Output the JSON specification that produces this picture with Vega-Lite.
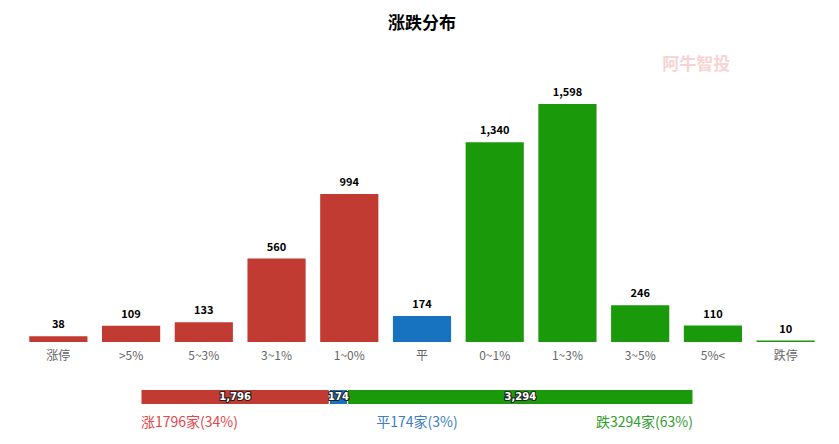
{
  "$schema": "https://vega.github.io/schema/vega-lite/v6.json",
  "background": "white",
  "padding": {"left": 22, "right": 17, "top": 15, "bottom": 0},
  "config": {"view": {"stroke": null}, "font": "Noto Sans CJK SC"},
  "title": {"text": "涨跌分布", "fontSize": 17, "fontWeight": "bold", "font": "Noto Sans CJK SC", "color": "#000000", "anchor": "middle", "offset": 17},
  "datasets": {
    "main": [
      {"cat": "涨停", "value": 38, "grp": "up"},
      {"cat": ">5%", "value": 109, "grp": "up"},
      {"cat": "5~3%", "value": 133, "grp": "up"},
      {"cat": "3~1%", "value": 560, "grp": "up"},
      {"cat": "1~0%", "value": 994, "grp": "up"},
      {"cat": "平", "value": 174, "grp": "flat"},
      {"cat": "0~1%", "value": 1340, "grp": "down"},
      {"cat": "1~3%", "value": 1598, "grp": "down"},
      {"cat": "3~5%", "value": 246, "grp": "down"},
      {"cat": "5%<", "value": 110, "grp": "down"},
      {"cat": "跌停", "value": 10, "grp": "down"}
    ],
    "total": [
      {"grp": "up", "i": 1, "value": 1796, "label": "涨1796家(34%)"},
      {"grp": "flat", "i": 2, "value": 174, "label": "平174家(3%)"},
      {"grp": "down", "i": 3, "value": 3294, "label": "跌3294家(63%)"}
    ],
    "mark": [{"wm": "阿牛智投"}]
  },
  "spacing": 23,
  "vconcat": [
    {
      "width": 800,
      "height": 292,
      "layer": [
        {
          "data": {"name": "main"},
          "mark": {"type": "bar"},
          "encoding": {
            "x": {
              "field": "cat", "type": "nominal", "sort": null,
              "scale": {"paddingInner": 0.2, "paddingOuter": 0.1},
              "axis": {"title": null, "labelAngle": 0, "labelColor": "#666666", "labelFontSize": 12, "ticks": false, "domain": false, "labelPadding": 8, "labelFont": "Noto Sans CJK SC"}
            },
            "y": {"field": "value", "type": "quantitative", "scale": {"domain": [0, 1960], "nice": false}, "axis": null},
            "color": {"field": "grp", "type": "nominal", "scale": {"domain": ["up", "flat", "down"], "range": ["#c23b33", "#1773c0", "#1a9a0b"]}, "legend": null}
          }
        },
        {
          "data": {"name": "main"},
          "mark": {"type": "text", "baseline": "bottom", "dy": -6, "fontSize": 11, "fontWeight": "bold", "color": "#000000", "font": "Noto Sans CJK SC"},
          "encoding": {
            "x": {"field": "cat", "type": "nominal", "sort": null},
            "y": {"field": "value", "type": "quantitative"},
            "text": {"field": "value", "type": "quantitative", "format": ","}
          }
        },
        {
          "data": {"name": "mark"},
          "mark": {"type": "text", "fontSize": 17, "fontWeight": "bold", "fill": "#f7d3d3", "align": "center", "baseline": "middle", "dx": 56, "font": "Noto Sans CJK SC"},
          "encoding": {
            "x": {"datum": "3~5%", "type": "nominal"},
            "y": {"datum": 1860, "type": "quantitative"},
            "text": {"field": "wm", "type": "nominal"}
          }
        }
      ]
    },
    {
      "width": 800,
      "height": 52,
      "data": {"name": "total"},
      "encoding": {
        "y": {"datum": "bar", "type": "nominal", "scale": {"domain": ["bar", "text"], "paddingInner": 0, "paddingOuter": 0}, "axis": null}
      },
      "layer": [
        {
          "mark": {"type": "bar", "height": 15, "stroke": "white", "strokeWidth": 1},
          "encoding": {
            "x": {"field": "value", "type": "quantitative", "stack": "zero", "scale": {"domain": [-1134.8, 6494.2], "nice": false, "zero": false}, "axis": null},
            "order": {"field": "i"},
            "color": {"field": "grp", "type": "nominal", "scale": {"domain": ["up", "flat", "down"], "range": ["#c23b33", "#1773c0", "#1a9a0b"]}, "legend": null}
          }
        },
        {
          "mark": {"type": "text", "fontSize": 10, "fontWeight": "bold", "stroke": "#222222", "strokeWidth": 2.2, "fill": "#222222", "baseline": "middle", "align": "center", "font": "DejaVu Sans"},
          "encoding": {
            "x": {"field": "value", "type": "quantitative", "stack": "zero", "bandPosition": 0.5},
            "order": {"field": "i"},
            "detail": {"field": "grp"},
            "text": {"field": "value", "type": "quantitative", "format": ","}
          }
        },
        {
          "mark": {"type": "text", "fontSize": 10, "fontWeight": "bold", "fill": "#ffffff", "baseline": "middle", "align": "center", "font": "DejaVu Sans"},
          "encoding": {
            "x": {"field": "value", "type": "quantitative", "stack": "zero", "bandPosition": 0.5},
            "order": {"field": "i"},
            "detail": {"field": "grp"},
            "text": {"field": "value", "type": "quantitative", "format": ","}
          }
        },
        {
          "transform": [{"filter": "datum.grp == 'up'"}],
          "mark": {"type": "text", "fontSize": 14, "color": "#e0484a", "align": "left", "baseline": "middle"},
          "encoding": {"x": {"datum": 0, "type": "quantitative"}, "y": {"datum": "text"}, "text": {"field": "label"}}
        },
        {
          "transform": [{"filter": "datum.grp == 'flat'"}],
          "mark": {"type": "text", "fontSize": 14, "color": "#3a7ec6", "align": "center", "baseline": "middle"},
          "encoding": {"x": {"datum": 2632, "type": "quantitative"}, "y": {"datum": "text"}, "text": {"field": "label"}}
        },
        {
          "transform": [{"filter": "datum.grp == 'down'"}],
          "mark": {"type": "text", "fontSize": 14, "color": "#2f9d2a", "align": "right", "baseline": "middle"},
          "encoding": {"x": {"datum": 5264, "type": "quantitative"}, "y": {"datum": "text"}, "text": {"field": "label"}}
        }
      ]
    }
  ]
}
